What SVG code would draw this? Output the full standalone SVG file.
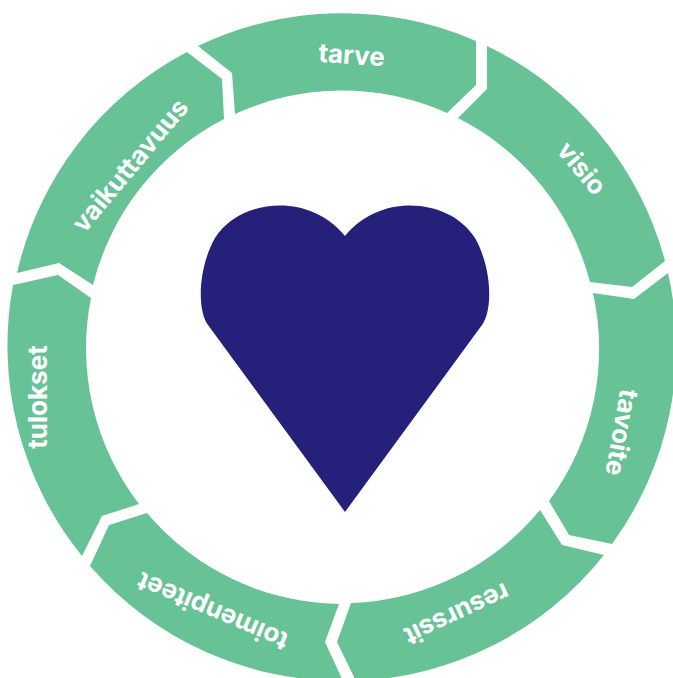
<svg xmlns="http://www.w3.org/2000/svg" width="673" height="678" viewBox="0 0 673 678">
<style>
.seg{fill:#67c296}
.lbl{fill:#fff;font-family:Inter,"Liberation Sans",sans-serif;font-weight:700;font-size:26px;text-anchor:middle}
</style>
<rect width="673" height="678" fill="#fff"/>
<g id="connectors"></g>
<g id="tarve"><path class="seg" d="M198 46A334 334 0 0 1 476 41L476 85L447 113A256 256 0 0 0 235 114L232 73Z"/><text class="lbl" transform="translate(351 64) rotate(4)">tarve</text></g>
<g id="visio"><path class="seg" d="M487 46A334 334 0 0 1 665 261L632 287L590 282A256 256 0 0 0 458 118L487 89Z"/><text class="lbl" transform="translate(575 174) rotate(50)">visio</text></g>
<g id="tavoite"><path class="seg" d="M668 273A334 334 0 0 1 612 544L569 535L549 501A256 256 0 0 0 593 293L634 299Z"/><text class="lbl" transform="translate(613 431) rotate(100)">tavoite</text></g>
<g id="resurssit"><path class="seg" d="M604 555A334 334 0 0 1 356 681L337 642L351 603A256 256 0 0 0 540 510L562 545Z"/><text class="lbl" transform="translate(453 606) rotate(-205)">resurssit</text></g>
<g id="toimenpiteet"><path class="seg" d="M343 681A334 334 0 0 1 90 566L109 525L147 513A256 256 0 0 0 339 604L325 642Z"/><text class="lbl" transform="translate(216 603) rotate(-157)">toimenpiteet</text></g>
<g id="tulokset"><path class="seg" d="M82 556A334 334 0 0 1 13 285L58 275L91 298A256 256 0 0 0 139 504L102 516Z"/><text class="lbl" transform="translate(47 397) rotate(-90)">tulokset</text></g>
<g id="vaikuttavuus"><path class="seg" d="M17 273A334 334 0 0 1 187 52L222 79L224 119A256 256 0 0 0 93 285L59 263Z"/><text class="lbl" transform="translate(137 171) rotate(-50)">vaikuttavuus</text></g>
<g id="heart"><path fill="#25217a" d="M345 512L208 325C197 310 198 268 215 238C240 198 310 192 345 236C380 192 450 198 475 238C492 268 493 310 482 325Z"/></g>
</svg>
